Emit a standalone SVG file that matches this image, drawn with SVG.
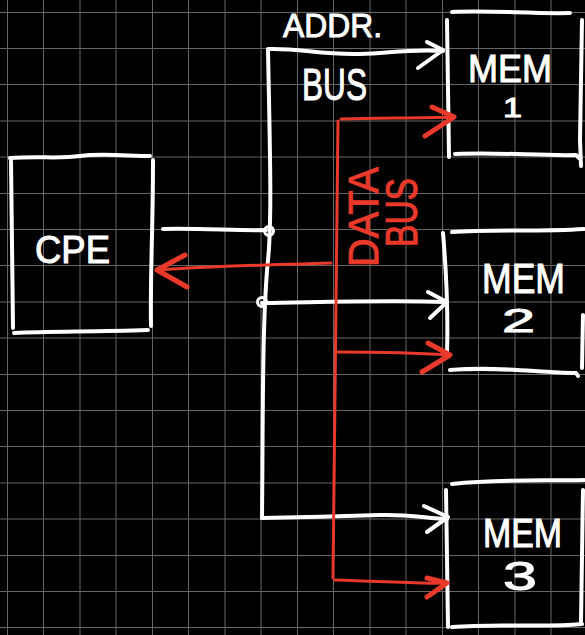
<svg xmlns="http://www.w3.org/2000/svg" width="585" height="635" viewBox="0 0 585 635">
<style>
.w{fill:none;stroke:#fff;stroke-width:4;stroke-linecap:round;stroke-linejoin:round}
.r{fill:none;stroke:#e8392b;stroke-width:3;stroke-linecap:round;stroke-linejoin:round}
.rh{fill:none;stroke:#e8392b;stroke-width:5;stroke-linecap:round;stroke-linejoin:round}
.wt{fill:#fff;stroke:#fff;stroke-width:1;font-family:"Liberation Sans",Arial,sans-serif}
.rt{fill:#e8392b;stroke:#e8392b;stroke-width:1;font-family:"Liberation Sans",Arial,sans-serif}
.grid{fill:none;stroke:#666;stroke-width:1}
</style>
<rect width="585" height="635" fill="#000"/>
<path class="grid" d="M7.5,0V635M43.5,0V635M80,0V635M116,0V635M152.5,0V635M188.5,0V635M225,0V635M261,0V635M297.5,0V635M333.5,0V635M370,0V635M406,0V635M442.5,0V635M478.5,0V635M515,0V635M551,0V635M0,12.5H585M0,48.5H585M0,84.5H585M0,121H585M0,157H585M0,193.5H585M0,229.5H585M0,265.5H585M0,302H585M0,338H585M0,374.5H585M0,410.5H585M0,446.5H585M0,483H585M0,519H585M0,555.5H585M0,591.5H585M0,627.5H585"/>

<g id="cpe">
<path class="w" d="M10,158 C40,156 60,159 80,156 S130,156 150,156 M11,161 L13,328 M153,160 C153,230 150,280 151,326 M14,333 C50,331 90,332 148,330"/>
<text class="wt" x="35" y="263" font-size="39" textLength="75" lengthAdjust="spacingAndGlyphs">CPE</text>
</g>

<g id="mem1">
<path class="w" d="M452,12 C490,10 530,14 570,13 M447,20 L449,157 M455,154 C500,152 540,156 576,155 L579,158 M582,20 L580,140 L581,166"/>
<text class="wt" x="468" y="82" font-size="38" textLength="84" lengthAdjust="spacingAndGlyphs">MEM</text>
<text class="wt" x="503" y="117" font-size="27" textLength="19" lengthAdjust="spacingAndGlyphs">1</text>
</g>

<g id="mem2">
<path class="w" d="M452,232 C490,229 540,232 584,229 M443,233 C447,280 448,320 447,353 M450,370 C500,366 540,373 576,373 L578,376 M583,315 L582,368"/>
<text class="wt" x="482" y="293" font-size="42" textLength="83" lengthAdjust="spacingAndGlyphs">MEM</text>
<text class="wt" x="502" y="332" font-size="34" textLength="33" lengthAdjust="spacingAndGlyphs">2</text>
</g>

<g id="mem3">
<path class="w" d="M452,484 C500,479 540,481 584,480 M446,490 L448,627 M452,627 C500,623 540,628 582,624 M583,490 L581,622"/>
<text class="wt" x="483" y="547" font-size="40" textLength="79" lengthAdjust="spacingAndGlyphs">MEM</text>
<text class="wt" x="503" y="590" font-size="41" textLength="34" lengthAdjust="spacingAndGlyphs">3</text>
</g>

<g id="addr-bus">
<text class="wt" x="283" y="37" font-size="34" textLength="99" lengthAdjust="spacingAndGlyphs">ADDR.</text>
<text class="wt" x="302" y="100" font-size="45" textLength="65" lengthAdjust="spacingAndGlyphs">BUS</text>
</g>

<g id="data-bus">
<text class="rt" transform="translate(378,267) rotate(-90)" font-size="43" textLength="100" lengthAdjust="spacingAndGlyphs">DATA</text>
<text class="rt" transform="translate(417,247) rotate(-90)" font-size="44" textLength="69" lengthAdjust="spacingAndGlyphs">BUS</text>
</g>

<g id="connectors">
<path class="w" d="M268,49 C300,48 320,55 360,54 C390,53 410,49 443,51 M427,42 L443,50 L418,68"/>
<path class="w" d="M268,50 C270,150 272,220 268,260 C262,320 263,420 262,518"/>
<path class="w" d="M262,518 C320,517 350,516 380,515 C410,514 430,519 447,519 M424,506 L448,517 L427,532"/>
<path class="w" d="M163,229 C200,228 240,231 266,230"/>
<circle class="w" cx="269" cy="231" r="4.5" style="stroke-width:3"/>
<path class="w" d="M262,303 C330,302 390,300 445,302 M428,292 L447,302 L430,318"/>
<circle class="w" cx="262" cy="302" r="4.5" style="stroke-width:3"/>

<path class="r" d="M338,121 C336,250 334,400 333,578"/>
<path class="r" d="M341,119 C380,118 420,118 452,117"/>
<path class="rh" d="M432,107 L454,117 L425,136"/>
<path class="r" d="M331,263 C270,265 210,266 160,270"/>
<path class="rh" d="M185,255 L157,270 L187,287"/>
<path class="r" d="M337,352 C380,352 420,353 448,355"/>
<path class="rh" d="M428,343 L450,355 L422,372"/>
<path class="r" d="M335,580 C380,581 420,584 445,583"/>
<path class="rh" d="M427,578 L447,583 L427,597"/>
</g>
</svg>
